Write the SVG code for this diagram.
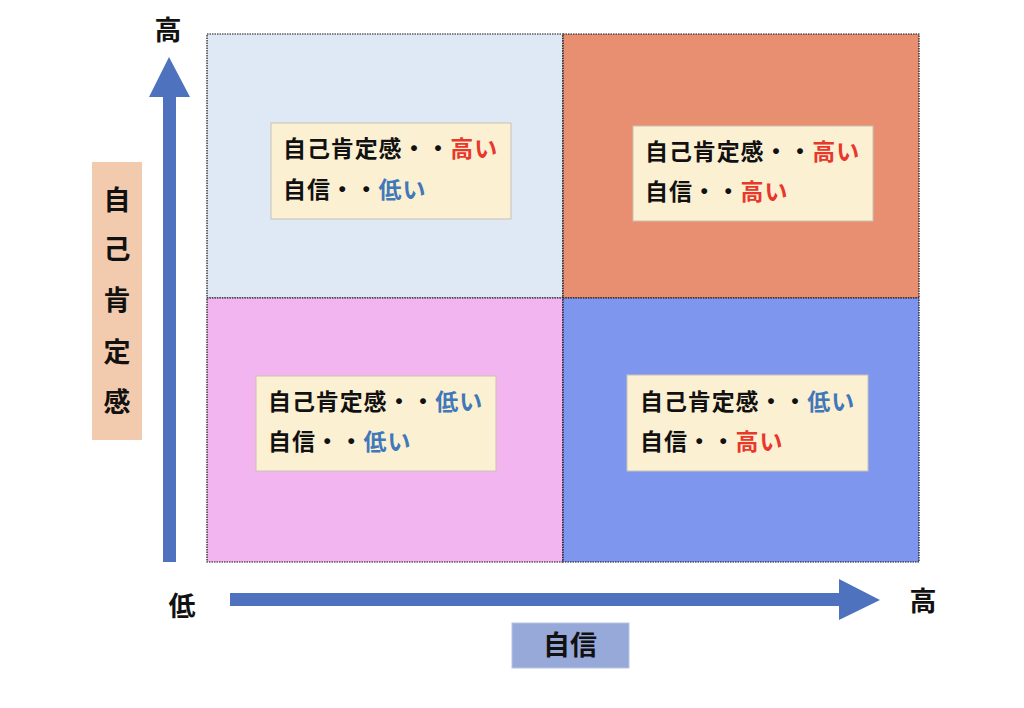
<svg xmlns="http://www.w3.org/2000/svg" width="1024" height="708" viewBox="0 0 1024 708">
<style>
text{font-family:"Noto Sans CJK JP","Noto Sans CJK SC",sans-serif;font-weight:bold;fill:#111}
.q{stroke:#111;stroke-width:1.2;stroke-dasharray:1.5 1}
.box{fill:#fcf0d3;stroke:#c8c2b4;stroke-width:1}
.t{font-size:23px;letter-spacing:0.9px}
.ax{font-size:27px;text-anchor:middle}
.hi{fill:#e8372b}
.lo{fill:#4078b9}
.arrow{fill:#4e72bd}
</style>
<rect width="1024" height="708" fill="#ffffff"/>
<g id="connectors">
<path class="arrow" d="M163,562 L176,562 L176,97 L190,97 L169,57 L149,97 L163,97 Z"/>
<path class="arrow" d="M230,593 L839,593 L839,579 L880,600 L839,620 L839,606 L230,606 Z"/>
</g>
<g id="quadrant-tl">
<rect class="q" x="207" y="34" width="356" height="264" fill="#dfe8f5"/>
<rect class="box" x="271" y="123" width="240" height="96"/>
<text class="t" x="283" y="157">自己肯定感・・<tspan class="hi">高い</tspan></text>
<text class="t" x="283" y="198">自信・・<tspan class="lo">低い</tspan></text>
</g>
<g id="quadrant-tr">
<rect class="q" x="563" y="34" width="356" height="264" fill="#e88f71"/>
<rect class="box" x="633" y="126" width="240" height="95"/>
<text class="t" x="645" y="160">自己肯定感・・<tspan class="hi">高い</tspan></text>
<text class="t" x="645" y="200">自信・・<tspan class="hi">高い</tspan></text>
</g>
<g id="quadrant-bl">
<rect class="q" x="207" y="298" width="356" height="264" fill="#f2b5ef"/>
<rect class="box" x="256" y="376" width="240" height="95"/>
<text class="t" x="268" y="410">自己肯定感・・<tspan class="lo">低い</tspan></text>
<text class="t" x="268" y="450">自信・・<tspan class="lo">低い</tspan></text>
</g>
<g id="quadrant-br">
<rect class="q" x="563" y="298" width="356" height="264" fill="#7f96ee"/>
<rect class="box" x="627" y="375" width="241" height="96"/>
<text class="t" x="640" y="410">自己肯定感・・<tspan class="lo">低い</tspan></text>
<text class="t" x="640" y="450">自信・・<tspan class="hi">高い</tspan></text>
</g>
<g id="y-label">
<rect x="92" y="162" width="50" height="278" fill="#f2cbae"/>
<text class="ax" x="117" y="210">自</text>
<text class="ax" x="117" y="259">己</text>
<text class="ax" x="117" y="310">肯</text>
<text class="ax" x="117" y="362">定</text>
<text class="ax" x="117" y="412">感</text>
</g>
<g id="x-label">
<rect x="512" y="623" width="117" height="45" fill="#97a9d8" stroke="#b8c4e4" stroke-width="1"/>
<text class="ax" x="570" y="655">自信</text>
</g>
<g id="ticks">
<text class="ax" x="168" y="40">高</text>
<text class="ax" x="182" y="616">低</text>
<text class="ax" x="923" y="611">高</text>
</g>
</svg>
